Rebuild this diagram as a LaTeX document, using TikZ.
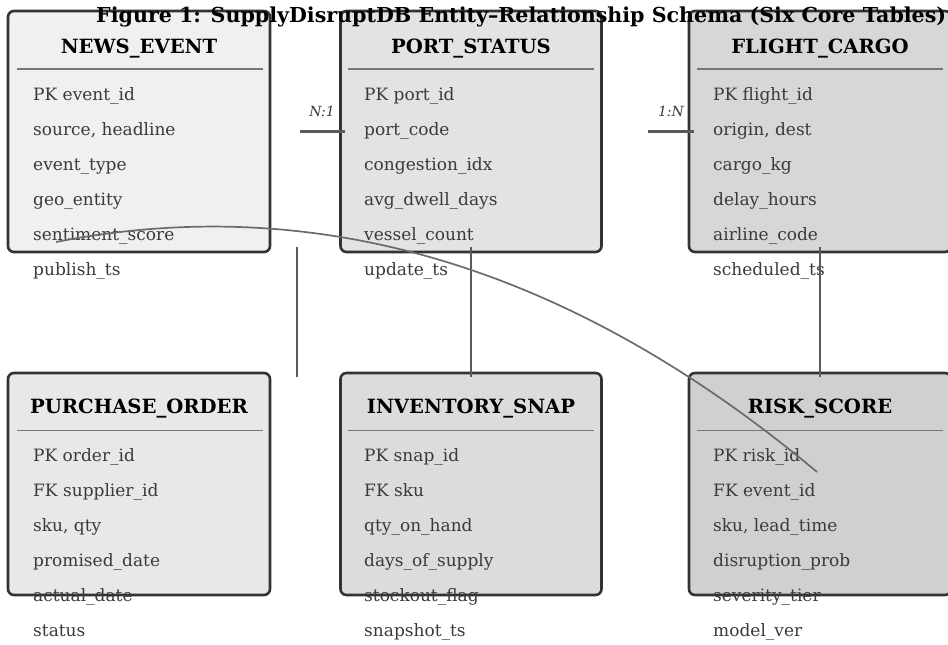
\documentclass[tikz,border=0pt]{standalone}
\usepackage{fontspec}
\setmainfont{DejaVu Serif}
\definecolor{boxline}{HTML}{333333}
\definecolor{fieldgray}{HTML}{3A3A3A}
\definecolor{sepgray}{HTML}{777777}
\definecolor{linkgray}{HTML}{5A5A5A}
\definecolor{fillA}{HTML}{F0F0F0}
\definecolor{fillB}{HTML}{E3E3E3}
\definecolor{fillC}{HTML}{D7D7D7}
\definecolor{fillD}{HTML}{E8E8E8}
\definecolor{fillE}{HTML}{DCDCDC}
\definecolor{fillF}{HTML}{D0D0D0}

\begin{document}
\begin{tikzpicture}[x=1pt,y=-1pt]
    \useasboundingbox (0,0) rectangle (948,645);
    \clip (0,0) rectangle (948,645);
    \tikzset{tablebox/.style={draw = boxline,
                line width = 2.6pt,
                rounded corners = 6pt,
                inner sep = 0pt},
             header/.style={anchor = base, inner sep = 0pt,
                font = \fontsize{19.6}{23}\selectfont\bfseries},
             field/.style={anchor = base west, inner sep = 0pt,
                text = fieldgray,
                font = \fontsize{17}{20}\selectfont},
             sep/.style={draw = sepgray, line width = 1.6pt},
             rel/.style={draw = linkgray, line width = 2.2pt},
             card/.style={anchor = base, inner sep = 0pt, text = fieldgray,
                font = \fontsize{14}{17}\selectfont\itshape}}
    % tables
    \node[tablebox, fill = fillA, minimum width = 262pt, minimum height = 241pt] (news) at (139,131.5) {};
    \node[tablebox, fill = fillB, minimum width = 261pt, minimum height = 241pt] (port) at (471,131.5) {};
    \node[tablebox, fill = fillC, minimum width = 262pt, minimum height = 241pt] (flight) at (820,131.5) {};
    \node[tablebox, fill = fillD, minimum width = 262pt, minimum height = 222pt] (po) at (139,484) {};
    \node[tablebox, fill = fillE, minimum width = 261pt, minimum height = 222pt] (inv) at (471,484) {};
    \node[tablebox, fill = fillF, minimum width = 262pt, minimum height = 222pt] (risk) at (820,484) {};
    \node[header] (news-name) at (139,53) {NEWS\_EVENT};
    \node[header] (port-name) at (471,53) {PORT\_STATUS};
    \node[header] (flight-name) at (820,53) {FLIGHT\_CARGO};
    \node[header] (po-name) at (139,413.5) {PURCHASE\_ORDER};
    \node[header] (inv-name) at (471,413.5) {INVENTORY\_SNAP};
    \node[header] (risk-name) at (820,413.5) {RISK\_SCORE};
    \foreach \x in {17,348,697} {
        \draw[sep] (\x,69) -- (\x+246,69);
        \draw[sep] (\x,430.5) -- (\x+246,430.5);
    }
    % fields
    \foreach \f [count=\i] in {PK event\_id, {source, headline}, event\_type, geo\_entity, sentiment\_score, publish\_ts}
        \node[field] (news-\i) at (33,65+35*\i) {\f};
    \foreach \f [count=\i] in {PK port\_id, port\_code, congestion\_idx, avg\_dwell\_days, vessel\_count, update\_ts}
        \node[field] (port-\i) at (364,65+35*\i) {\f};
    \foreach \f [count=\i] in {PK flight\_id, {origin, dest}, cargo\_kg, delay\_hours, airline\_code, scheduled\_ts}
        \node[field] (flight-\i) at (713,65+35*\i) {\f};
    \foreach \f [count=\i] in {PK order\_id, FK supplier\_id, {sku, qty}, promised\_date, actual\_date, status}
        \node[field] (po-\i) at (33,426+35*\i) {\f};
    \foreach \f [count=\i] in {PK snap\_id, FK sku, qty\_on\_hand, days\_of\_supply, stockout\_flag, snapshot\_ts}
        \node[field] (inv-\i) at (364,426+35*\i) {\f};
    \foreach \f [count=\i] in {PK risk\_id, FK event\_id, {sku, lead\_time}, disruption\_prob, severity\_tier, model\_ver}
        \node[field] (risk-\i) at (713,426+35*\i) {\f};
    % relationships
    \coordinate (news-out) at (300,131.5);
    \coordinate (port-in) at (345,131.5);
    \coordinate (port-out) at (648,131.5);
    \coordinate (flight-in) at (694,131.5);
    \draw[rel] (news-out) -- (port-in);
    \draw[rel] (port-out) -- (flight-in);
    \node[card] (n1) at (322,116.5) {N:1};
    \node[card] (1n) at (671,116.5) {1:N};
    \draw[rel] ([xshift=26pt, yshift=6pt]news.south east) -- ([xshift=26pt, yshift=-5pt]po.north east);
    \draw[rel] ([yshift=6pt]port.south) -- ([yshift=-5pt]inv.north);
    \draw[rel] ([yshift=6pt]flight.south) -- ([yshift=-5pt]risk.north);
    \coordinate (sentiment) at (56,242);
    \coordinate (risk-fk) at (817,472);
    \draw[draw = linkgray!90, line width = 1.7pt] (sentiment) .. controls (318.7,190.7) and (572.3,267.3) .. (risk-fk);
    \node[anchor = base west, inner sep = 0pt, font = \fontsize{20.6}{24}\selectfont\bfseries] (title) at (96,23)
        {Figure 1: SupplyDisruptDB Entity–Relationship Schema (Six Core Tables)};
\end{tikzpicture}
\end{document}
